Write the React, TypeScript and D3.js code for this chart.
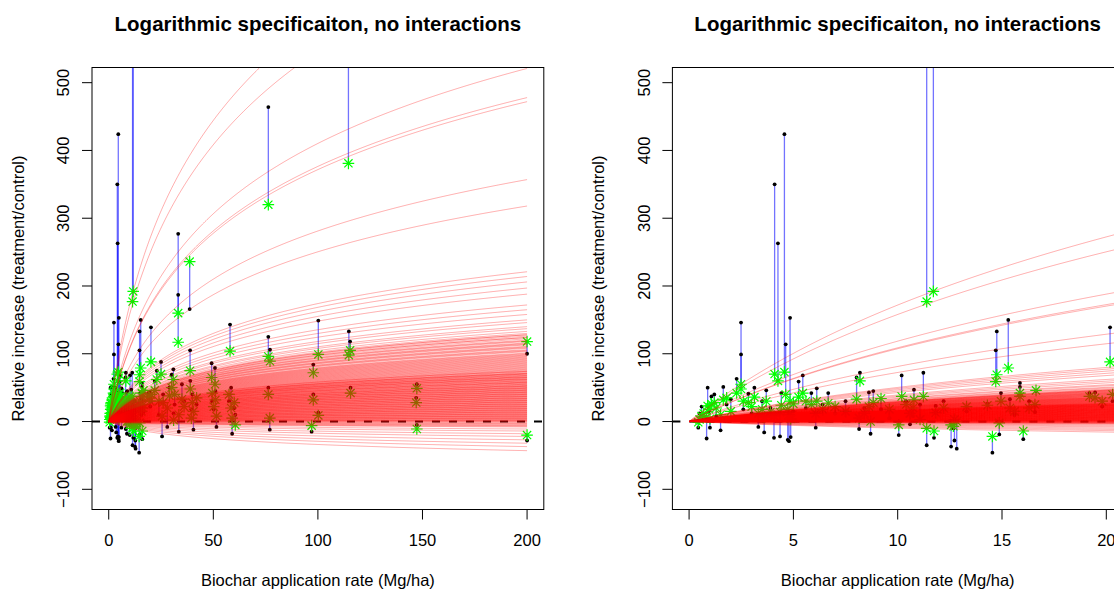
import React from 'react';
import * as d3 from 'd3';

// ---------------- data ----------------
const K = 10; // curvature constant of the logarithmic curves: y = b * ln(1 + x / K)

// Value of every study curve at 200 Mg/ha
const curveEnds200: number[] = [
  755, 694, 521, 478, 472, 357, 318,
  221, 214, 206, 197, 188,
  172, 165, 158, 150, 146, 140, 137, 133,
  130, 128, 128, 126, 124, 124, 122, 120, 119, 118, 116, 115, 114, 113, 111, 110, 109, 108,
  106, 105, 104, 103, 101, 100, 99,
  98, 97, 96, 95, 94, 93, 92, 91, 90, 89, 88, 87, 86, 85, 84, 83, 82, 81, 80, 79, 78, 77,
  76, 75, 74, 74, 73, 72, 71, 71, 70, 70, 69, 68, 68, 67, 66, 66, 65, 65, 64, 63, 63, 62,
  62, 61, 60, 60, 59, 58, 58, 57, 57, 56, 55, 55, 54, 53, 53, 52, 52, 51, 50, 50, 49, 49,
  48, 47, 47, 46, 46, 45, 44, 44, 43, 43, 42, 41, 41, 40, 40, 39, 38, 38, 37, 37, 36, 35,
  35, 34, 34, 33, 32, 32, 31, 31, 30, 29, 29, 28, 28, 27, 26, 26, 25, 25, 24, 23, 23, 22,
  22, 21, 20, 20, 19, 19, 18, 17, 17, 16, 16, 15, 14, 14, 13, 13, 12, 11, 11, 10, 10, 9,
  8, 8, 7, 7, 6, 5, 5, 4, 4, 3, 2, 2, 1, 1, 0, -1, -2, -3, -4, -5, -6, -7,
  -8, -11, -14, -18, -22, -27, -32, -37, -43,
];

// Observations: [application rate (Mg/ha), observed relative increase, fitted value]
const observations: [number, number, number][] = [
  [0.44, -9, -1], [0.5, 12, 3], [0.6, 22, 8], [0.7, 5, 12], [0.84, -25, 6], [0.89, 50, 23],
  [0.95, 15, 18], [1.0, -9, 4], [1.07, 37, 26], [1.21, 40, 28], [1.3, 8, 20], [1.51, -13, 10],
  [1.64, 51, 32], [1.8, 25, 35], [2.0, 33, 15], [2.28, 63, 42], [2.49, 146, 48], [2.49, 99, 55],
  [2.6, 18, 30], [2.84, 41, 28], [3.0, 12, 22], [3.13, 50, 36], [3.32, -8, 12], [3.5, 30, 18],
  [3.6, -16, 6], [3.7, 46, 30], [3.9, 20, 14], [4.07, -24, 8], [4.1, 350, 70], [4.26, 263, 60],
  [4.36, -22, 14], [4.42, 42, 24], [4.57, 424, 73], [4.63, 114, 40], [4.73, -27, 18],
  [4.79, -29, 10], [4.84, 153, 30], [4.87, -23, 4], [5.0, 15, 26], [5.25, 59, 36], [5.45, 68, 42],
  [5.6, 20, 30], [5.86, 42, 25], [6.07, -9, 12], [6.12, 49, 30], [6.4, 25, 18], [6.67, 42, 27],
  [7.0, 12, 22], [7.5, 30, 15], [8.03, 65, 33], [8.15, -11, 5], [8.19, 72, 60], [8.4, 20, 12],
  [8.62, 43, 22], [8.7, -18, 0], [8.83, 45, 28], [9.2, 18, 34], [9.6, 5, 18], [10.05, -20, -5],
  [10.19, 68, 37], [10.4, 30, 25], [10.59, -4, 12], [10.73, 8, 20], [10.78, 47, 32], [11.07, 25, 3],
  [11.23, 72, 37], [11.39, 1200, 177], [11.39, -35, -10], [11.71, 1000, 192], [11.74, -24, -14],
  [11.82, 23, 13], [12.2, 30, 20], [12.56, -37, -5], [12.67, -10, -7], [12.72, -28, 3],
  [12.83, -40, 0], [13.3, 15, 22], [14.3, 26, 24], [14.54, -46, -22], [14.7, 105, 59],
  [14.75, 133, 69], [14.87, -19, -2], [14.95, 42, 30], [15.3, 150, 79], [15.38, 33, 20],
  [15.6, 10, 15], [15.86, 57, 37], [15.86, 51, 42], [16.02, -26, -14], [16.3, 30, 20],
  [16.58, 14, 25], [16.63, 45, 46], [19.19, 42, 37], [19.46, 43, 35], [19.8, 22, 30],
  [20.18, 139, 88], [20.3, 30, 40],
  [22, 60, 46], [23, 75, 62], [24, 10, 30], [25, 88, 70], [25.5, -22, 8], [26, 40, 28],
  [28, -8, 20], [29, 50, 38], [30.1, 69, 50], [30.9, 77, 62], [31, 12, 2], [31.5, 25, 40],
  [33.2, 277, 160], [33.2, 187, 117], [33.5, -15, 10], [35, 55, 33], [36, 30, 22],
  [38.7, 166, 236], [38.9, 105, 75], [39, 60, 48], [39.5, 18, 5], [40, 40, 28], [40.5, -12, 15],
  [42, 25, 35], [49.2, 86, 65], [49.5, 30, 42], [50.2, 18, 22], [50.8, 79, 55], [51, 45, 32],
  [51.5, -8, 8], [57.5, 30, 40], [58, 143, 104], [58.5, 50, 20], [59, -18, 5], [60, 20, 28],
  [60.5, 10, -5], [76.3, 464, 320], [76.3, 125, 96], [77.1, 106, 89], [76.3, 50, 40],
  [77, -12, 5], [97.8, 84, 72], [97.8, 40, 32], [97, -15, -6], [100.2, 149, 99], [100.2, 13, 9],
  [114.6, 1100, 381], [114.8, 133, 98], [115.4, 118, 105], [115.6, 50, 42], [147.3, 55, 49],
  [147, 35, 28], [147.3, -5, -11], [200, 100, 118], [200, -28, -20],
];

const yTicks = [-100, 0, 100, 200, 300, 400, 500];
const leftXTicks = [0, 50, 100, 150, 200];
const rightXTicks = [0, 5, 10, 15, 20];
const titleText = 'Logarithmic specificaiton, no interactions';
const xLabel = 'Biochar application rate (Mg/ha)';
const yLabel = 'Relative increase (treatment/control)';

// ---------------- layout ----------------
const W = 1114;
const H = 592;
const plotTop = 67.5;
const plotBottom = 509.5;
const yDomain: [number, number] = [-129.8, 522.4];

const panels = [
  { id: 'l', left: 92, right: 543.8, xDomain: [-8, 208] as [number, number], xTicks: leftXTicks, curveMax: 200 },
  { id: 'r', left: 672.4, right: 1123, xDomain: [-0.8, 20.8] as [number, number], xTicks: rightXTicks, curveMax: 20.8 },
];

const FONT = "'Liberation Sans', Arial, Helvetica, sans-serif";

function starPath(cx: number, cy: number, r: number) {
  const d = r / Math.SQRT2;
  return `M${cx - r},${cy}H${cx + r}M${cx},${cy - r}V${cy + r}` +
    `M${cx - d},${cy - d}L${cx + d},${cy + d}M${cx - d},${cy + d}L${cx + d},${cy - d}`;
}

export default function App() {
  const y = d3.scaleLinear().domain(yDomain).range([plotBottom, plotTop]);
  const norm = Math.log(1 + 200 / K);
  const coefs = curveEnds200.map((v) => v / norm);

  return (
    <svg
      width={W}
      height={H}
      style={{ position: 'absolute', left: 0, top: 0, background: '#fff' }}
      fontFamily={FONT}
    >
      <rect width={W} height={H} fill="#fff" />
      {panels.map((p) => {
        const x = d3.scaleLinear().domain(p.xDomain).range([p.left, p.right]);
        const samples = d3.range(0, 601).map((i) => (p.curveMax * i) / 600);
        const cx = (p.left + p.right) / 2;
        const cy = (plotTop + plotBottom) / 2;
        const clipId = `clip-${p.id}`;
        return (
          <g key={p.id}>
            <defs>
              <clipPath id={clipId}>
                <rect x={p.left} y={plotTop} width={p.right - p.left} height={plotBottom - plotTop} />
              </clipPath>
            </defs>
            <g clipPath={`url(#${clipId})`}>
              {/* zero reference line */}
              <line
                x1={p.left}
                x2={p.right}
                y1={y(0)}
                y2={y(0)}
                stroke="#000"
                strokeWidth={2}
                strokeDasharray="8,9"
              />
              {/* residual segments */}
              {observations.map((o, i) => (
                <line
                  key={`s${i}`}
                  x1={x(o[0])}
                  x2={x(o[0])}
                  y1={y(Math.min(o[1], 2000))}
                  y2={y(o[2])}
                  stroke="rgba(0,0,255,0.55)"
                  strokeWidth={1.3}
                />
              ))}
              {/* observed points */}
              {observations.map((o, i) => (
                <circle key={`d${i}`} cx={x(o[0])} cy={y(Math.min(o[1], 2000))} r={1.9} fill="#000" />
              ))}
              {/* fitted values */}
              {observations.map((o, i) => (
                <path
                  key={`f${i}`}
                  d={starPath(x(o[0]), y(o[2]), 5.8)}
                  stroke="#00ff00"
                  strokeWidth={1.2}
                  fill="none"
                />
              ))}
              {/* study curves */}
              {coefs.map((b, i) => {
                const line = d3
                  .line<number>()
                  .x((v) => x(v))
                  .y((v) => y(Math.min(b * Math.log(1 + v / K), 3000)));
                return (
                  <path
                    key={`c${i}`}
                    d={line(samples) || ''}
                    stroke="rgba(255,0,0,0.32)"
                    strokeWidth={1}
                    fill="none"
                  />
                );
              })}
            </g>
            {/* box */}
            <rect
              x={p.left}
              y={plotTop}
              width={p.right - p.left}
              height={plotBottom - plotTop}
              fill="none"
              stroke="#000"
              strokeWidth={1}
            />
            {/* x axis */}
            {p.xTicks.map((t) => (
              <g key={`xt${t}`}>
                <line x1={x(t)} x2={x(t)} y1={plotBottom} y2={plotBottom + 10} stroke="#000" />
                <text x={x(t)} y={plotBottom + 31} dy="0.35em" textAnchor="middle" fontSize={16.5}>
                  {t}
                </text>
              </g>
            ))}
            {/* y axis */}
            {yTicks.map((t) => (
              <g key={`yt${t}`}>
                <line x1={p.left - 10} x2={p.left} y1={y(t)} y2={y(t)} stroke="#000" />
                <text
                  transform={`translate(${p.left - 28.5},${y(t)}) rotate(-90)`}
                  dy="0.35em"
                  textAnchor="middle"
                  fontSize={16.5}
                >
                  {t < 0 ? `\u2212${Math.abs(t)}` : t}
                </text>
              </g>
            ))}
            <text x={cx} y={580} dy="0.35em" textAnchor="middle" fontSize={16.5}>
              {xLabel}
            </text>
            <text
              transform={`translate(${p.left - 74},${cy}) rotate(-90)`}
              dy="0.35em"
              textAnchor="middle"
              fontSize={16.5}
            >
              {yLabel}
            </text>
            <text x={cx} y={24} dy="0.35em" textAnchor="middle" fontSize={20.5} fontWeight="bold">
              {titleText}
            </text>
          </g>
        );
      })}
    </svg>
  );
}
